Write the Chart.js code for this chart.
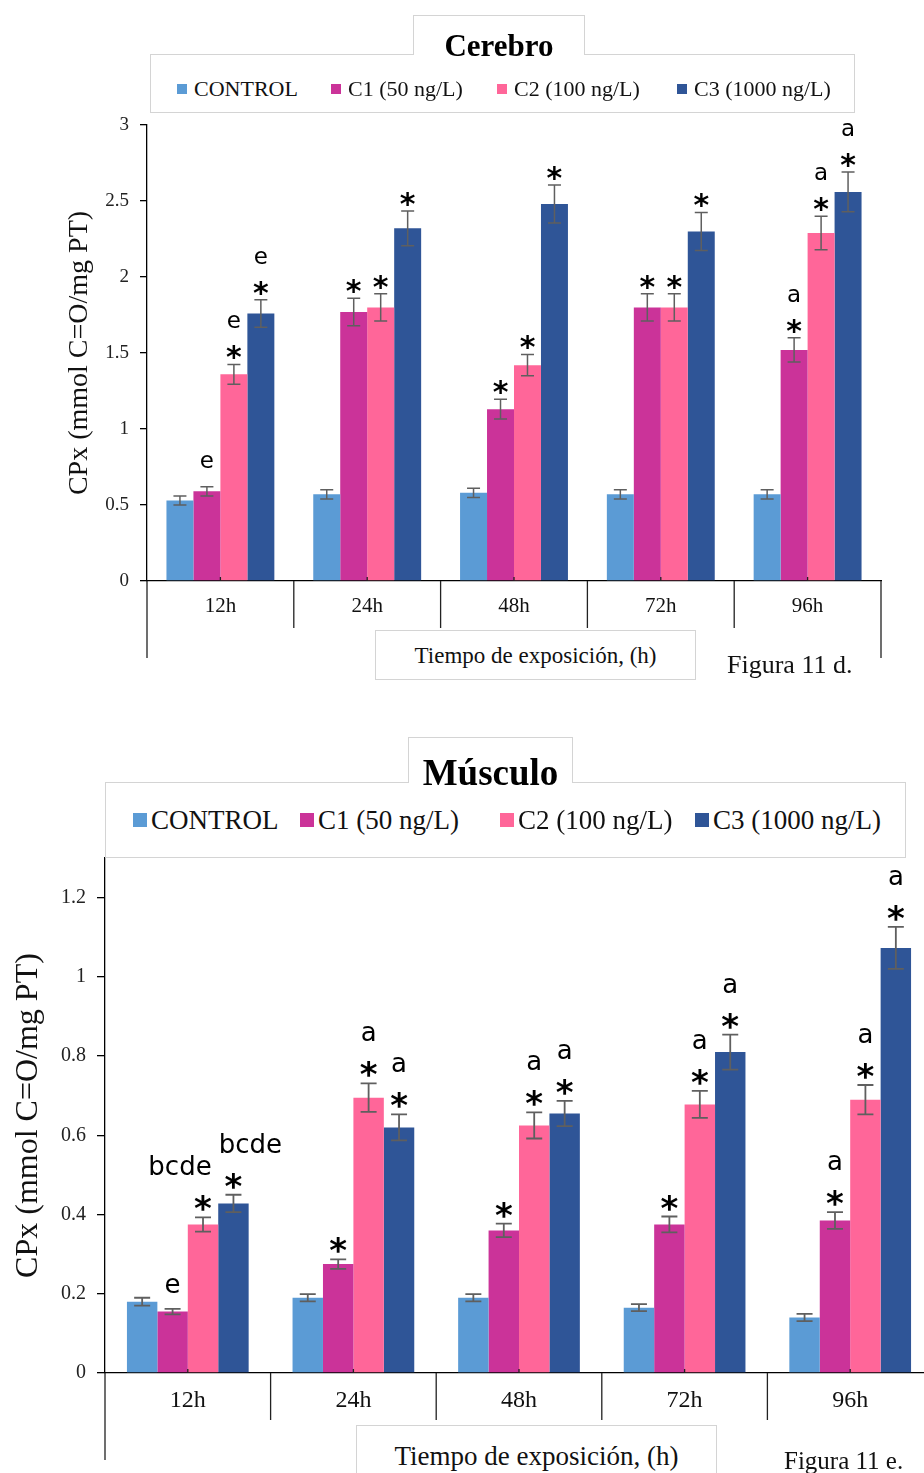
<!DOCTYPE html>
<html>
<head>
<meta charset="utf-8">
<script src="https://cdn.jsdelivr.net/npm/chart.js@4.4.1/dist/chart.umd.min.js"></script>
<style>
  body { margin: 0; background: #fff; overflow: hidden; }
  #page { position: relative; width: 924px; height: 1473px; overflow: hidden; font-family: "Liberation Serif", "Times New Roman", serif; color: #111; }
  canvas { position: absolute; left: 0; }
  .box { position: absolute; border: 1px solid #d4d4d4; background: #fff; box-sizing: border-box; }
  .tab { position: absolute; border: 1px solid #d4d4d4; border-bottom: none; background: #fff; box-sizing: border-box; text-align: center; font-weight: bold; color: #000; }
  .sq { position: absolute; }
  .lt { position: absolute; white-space: nowrap; transform: translateY(-50%); }
  .txt { position: absolute; white-space: nowrap; transform: translateY(-50%); }
</style>
</head>
<body>
<div id="page">
  <canvas id="cerebro" width="924" height="700" style="top:0"></canvas>
  <canvas id="musculo" width="940" height="753" style="top:720px"></canvas>
</div>
<script>
// categories and series
const timeLabels = ['12h', '24h', '48h', '72h', '96h'];
const seriesNames = ['CONTROL', 'C1 (50 ng/L)', 'C2 (100 ng/L)', 'C3 (1000 ng/L)'];

// Cerebro values (mmol C=O/mg PT) and error bars
const cerebroControl = [0.53, 0.57, 0.58, 0.57, 0.57];
const cerebroC1 = [0.59, 1.77, 1.13, 1.80, 1.52];
const cerebroC2 = [1.36, 1.80, 1.42, 1.80, 2.29];
const cerebroC3 = [1.76, 2.32, 2.48, 2.30, 2.56];
const cerebroControlErr = [0.03, 0.03, 0.03, 0.03, 0.03];
const cerebroC1Err = [0.03, 0.09, 0.065, 0.09, 0.08];
const cerebroC2Err = [0.065, 0.09, 0.07, 0.09, 0.11];
const cerebroC3Err = [0.09, 0.115, 0.125, 0.125, 0.13];

// Musculo values and error bars
const musculoControl = [0.18, 0.19, 0.19, 0.165, 0.14];
const musculoC1 = [0.155, 0.275, 0.36, 0.375, 0.385];
const musculoC2 = [0.375, 0.695, 0.625, 0.678, 0.69];
const musculoC3 = [0.428, 0.62, 0.655, 0.81, 1.073];
const musculoControlErr = [0.01, 0.009, 0.009, 0.009, 0.009];
const musculoC1Err = [0.007, 0.012, 0.017, 0.02, 0.021];
const musculoC2Err = [0.018, 0.036, 0.033, 0.034, 0.037];
const musculoC3Err = [0.022, 0.033, 0.032, 0.044, 0.053];

// significance marks, one row per time, one column per series
const cerebroStars = [
  ['', '', '*', '*'],
  ['', '*', '*', '*'],
  ['', '*', '*', '*'],
  ['', '*', '*', '*'],
  ['', '*', '*', '*']
];
const cerebroLetters = [
  ['', 'e', 'e', 'e'],
  ['', '', '', ''],
  ['', '', '', ''],
  ['', '', '', ''],
  ['', 'a', 'a', 'a']
];
const musculoStars = [
  ['', '', '*', '*'],
  ['', '*', '*', '*'],
  ['', '*', '*', '*'],
  ['', '*', '*', '*'],
  ['', '*', '*', '*']
];
const musculoLetters = [
  ['', 'e', 'bcde', 'bcde'],
  ['', '', 'a', 'a'],
  ['', '', 'a', 'a'],
  ['', '', 'a', 'a'],
  ['', 'a', 'a', 'a']
];

const colors = ['#5B9BD5', '#CB3399', '#FF6699', '#2F5597'];

// error bars + stars/letters over each bar
const marksPlugin = {
  id: 'marks',
  afterDatasetsDraw(chart, args, o) {
    const ctx = chart.ctx;
    const y = chart.scales.y;
    chart.data.datasets.forEach((ds, di) => {
      chart.getDatasetMeta(di).data.forEach((bar, i) => {
        const v = ds.data[i], e = ds.errors[i];
        const yt = y.getPixelForValue(v + e);
        const yb = y.getPixelForValue(v - e);
        ctx.save();
        ctx.strokeStyle = '#5f5f5f';
        ctx.lineWidth = o.errWidth;
        ctx.beginPath();
        ctx.moveTo(bar.x, yt); ctx.lineTo(bar.x, yb);
        ctx.moveTo(bar.x - o.cap, yt); ctx.lineTo(bar.x + o.cap, yt);
        ctx.moveTo(bar.x - o.cap, yb); ctx.lineTo(bar.x + o.cap, yb);
        ctx.stroke();

        const star = o.stars[i][di];
        const letter = o.letters[i][di];
        ctx.fillStyle = '#000';
        ctx.textAlign = 'center';
        ctx.textBaseline = 'alphabetic';
        let base;
        if (star) {
          const cy = yt - o.starGap;
          ctx.font = 'bold ' + o.starSize + 'px "DejaVu Sans"';
          ctx.fillText(star, bar.x, cy + 0.56 * o.starSize);
          base = cy - o.letterGap;
        } else {
          base = yt - o.loneGap;
        }
        if (letter) {
          ctx.font = o.letterSize + 'px "DejaVu Sans"';
          const dx = letter.length > 1 ? (o.wideShift[di] || 0) : 0;
          ctx.fillText(letter, bar.x + dx, base);
        }
        ctx.restore();
      });
    });
  }
};

// category separators and outer frame lines under the x axis
const framePlugin = {
  id: 'frame',
  afterDraw(chart, args, o) {
    const {ctx, chartArea: {left, right, bottom}} = chart;
    const n = chart.data.labels.length;
    const w = (right - left) / n;
    ctx.save();
    ctx.strokeStyle = '#222';
    ctx.lineWidth = 1.3;
    ctx.beginPath();
    for (let i = 1; i < n; i++) {
      const x = left + i * w;
      ctx.moveTo(x, bottom); ctx.lineTo(x, bottom + o.sep);
    }
    for (let i = 0; i < n; i++) {
      const x = left + (i + 0.5) * w;
      ctx.moveTo(x, bottom - 4); ctx.lineTo(x, bottom);
    }
    ctx.moveTo(left, bottom); ctx.lineTo(left, bottom + o.outer);
    ctx.moveTo(right, bottom); ctx.lineTo(right, bottom + o.outer);
    ctx.stroke();
    ctx.restore();
  }
};

function makeDatasets(vals, errs) {
  return seriesNames.map((name, k) => ({
    label: name,
    data: vals[k],
    errors: errs[k],
    backgroundColor: colors[k],
    borderWidth: 0,
    categoryPercentage: 0.735,
    barPercentage: 1
  }));
}

function makeChart(id, cfg) {
  return new Chart(document.getElementById(id), {
    type: 'bar',
    data: { labels: timeLabels, datasets: cfg.datasets },
    plugins: [marksPlugin, framePlugin],
    options: {
      responsive: false,
      animation: false,
      layout: { padding: cfg.padding },
      plugins: {
        legend: { display: false },
        tooltip: { enabled: false },
        marks: cfg.marks,
        frame: cfg.frame
      },
      scales: {
        x: {
          afterFit: s => { s.height = 60; },
          grid: { display: true, drawOnChartArea: false, drawTicks: false },
          border: { display: true, color: '#000', width: 1.3 },
          ticks: { color: '#111', padding: cfg.xPad, font: { family: 'Liberation Serif', size: cfg.xFont } }
        },
        y: {
          min: 0,
          max: cfg.max,
          afterFit: s => { s.width = cfg.yWidth; },
          afterBuildTicks: s => { s.ticks = s.ticks.filter(t => Math.abs(t.value / cfg.step - Math.round(t.value / cfg.step)) < 1e-6); },
          grid: { display: true, drawOnChartArea: false, drawTicks: true, tickLength: cfg.tickLen, color: '#000', lineWidth: 1.3 },
          border: { display: true, color: '#000', width: 1.3 },
          ticks: {
            stepSize: cfg.step,
            color: '#222',
            padding: cfg.yPad,
            font: { family: 'Liberation Serif', size: cfg.yFont },
            callback: v => String(+v.toFixed(2))
          },
          title: {
            display: true,
            text: 'CPx (mmol C=O/mg PT)',
            color: '#111',
            padding: { top: cfg.titlePad, bottom: 0 },
            font: { family: 'Liberation Serif', size: cfg.titleFont }
          }
        }
      }
    }
  });
}

makeChart('cerebro', {
  datasets: makeDatasets([cerebroControl, cerebroC1, cerebroC2, cerebroC3],
                         [cerebroControlErr, cerebroC1Err, cerebroC2Err, cerebroC3Err]),
  padding: { left: 0, top: 125, right: 43, bottom: 59 },
  max: 3, step: 0.5, yWidth: 147, tickLen: 7, yPad: 11, yFont: 19, xFont: 21, xPad: 13,
  titleFont: 28, titlePad: 63,
  marks: { stars: cerebroStars, letters: cerebroLetters, errWidth: 1.5, cap: 6.5,
           starSize: 30, letterSize: 23, starGap: 14, letterGap: 22, loneGap: 19, wideShift: {} },
  frame: { sep: 47, outer: 77 }
});

makeChart('musculo', {
  datasets: makeDatasets([musculoControl, musculoC1, musculoC2, musculoC3],
                         [musculoControlErr, musculoC1Err, musculoC2Err, musculoC3Err]),
  padding: { left: 0, top: 138, right: 7, bottom: 40 },
  max: 1.3, step: 0.2, yWidth: 105, tickLen: 8, yPad: 11, yFont: 20, xFont: 24, xPad: 13,
  titleFont: 32, titlePad: 9,
  marks: { stars: musculoStars, letters: musculoLetters, errWidth: 1.8, cap: 8,
           starSize: 34, letterSize: 26, starGap: 16, letterGap: 26, loneGap: 16, wideShift: { 2: -23, 3: 17 } },
  frame: { sep: 47, outer: 87 }
});

// HTML title tabs, legends, axis title boxes, captions
const page = document.getElementById('page');
function el(cls, css, text) {
  const d = document.createElement('div');
  d.className = cls;
  Object.assign(d.style, css);
  if (text !== undefined) d.textContent = text;
  page.appendChild(d);
  return d;
}

function legendBlock(L) {
  el('box', { left: L.box[0] + 'px', top: L.box[1] + 'px', width: L.box[2] + 'px', height: L.box[3] + 'px' });
  el('tab', { left: L.tab[0] + 'px', top: L.tab[1] + 'px', width: L.tab[2] + 'px', height: L.tab[3] + 'px',
              fontSize: L.titleSize + 'px', lineHeight: L.tab[3] + 'px', paddingTop: L.titlePadTop + 'px' }, L.title);
  seriesNames.forEach((name, k) => {
    el('sq', { left: L.sqX[k] + 'px', top: (L.cy - L.sq / 2) + 'px', width: L.sq + 'px', height: L.sq + 'px', background: colors[k] });
    el('lt', { left: (L.sqX[k] + L.textGap) + 'px', top: L.cy + 'px', fontSize: L.font + 'px' }, name);
  });
  el('box', { left: L.xbox[0] + 'px', top: L.xbox[1] + 'px', width: L.xbox[2] + 'px', height: L.xbox[3] + 'px',
              fontSize: L.xFont + 'px', lineHeight: L.xbox[3] + 'px', textAlign: 'center' }, 'Tiempo de exposición, (h)');
  el('txt', { left: L.fig[0] + 'px', top: L.fig[1] + 'px', fontSize: L.figFont + 'px' }, L.figText);
}

legendBlock({
  box: [150, 54, 705, 59], tab: [413, 15, 172, 40], title: 'Cerebro', titleSize: 31, titlePadTop: 10,
  sqX: [177, 331, 497, 677], sq: 10, textGap: 17, cy: 89, font: 22,
  xbox: [375, 630, 321, 50], xFont: 23, fig: [727, 665], figFont: 26, figText: 'Figura 11 d.'
});

legendBlock({
  box: [105, 782, 801, 76], tab: [408, 737, 165, 46], title: 'Músculo', titleSize: 37, titlePadTop: 12,
  sqX: [133, 300, 500, 695], sq: 14, textGap: 18, cy: 820, font: 27,
  xbox: [356, 1425, 361, 60], xFont: 27, fig: [784, 1461], figFont: 25, figText: 'Figura 11 e.'
});
</script>
</body>
</html>
